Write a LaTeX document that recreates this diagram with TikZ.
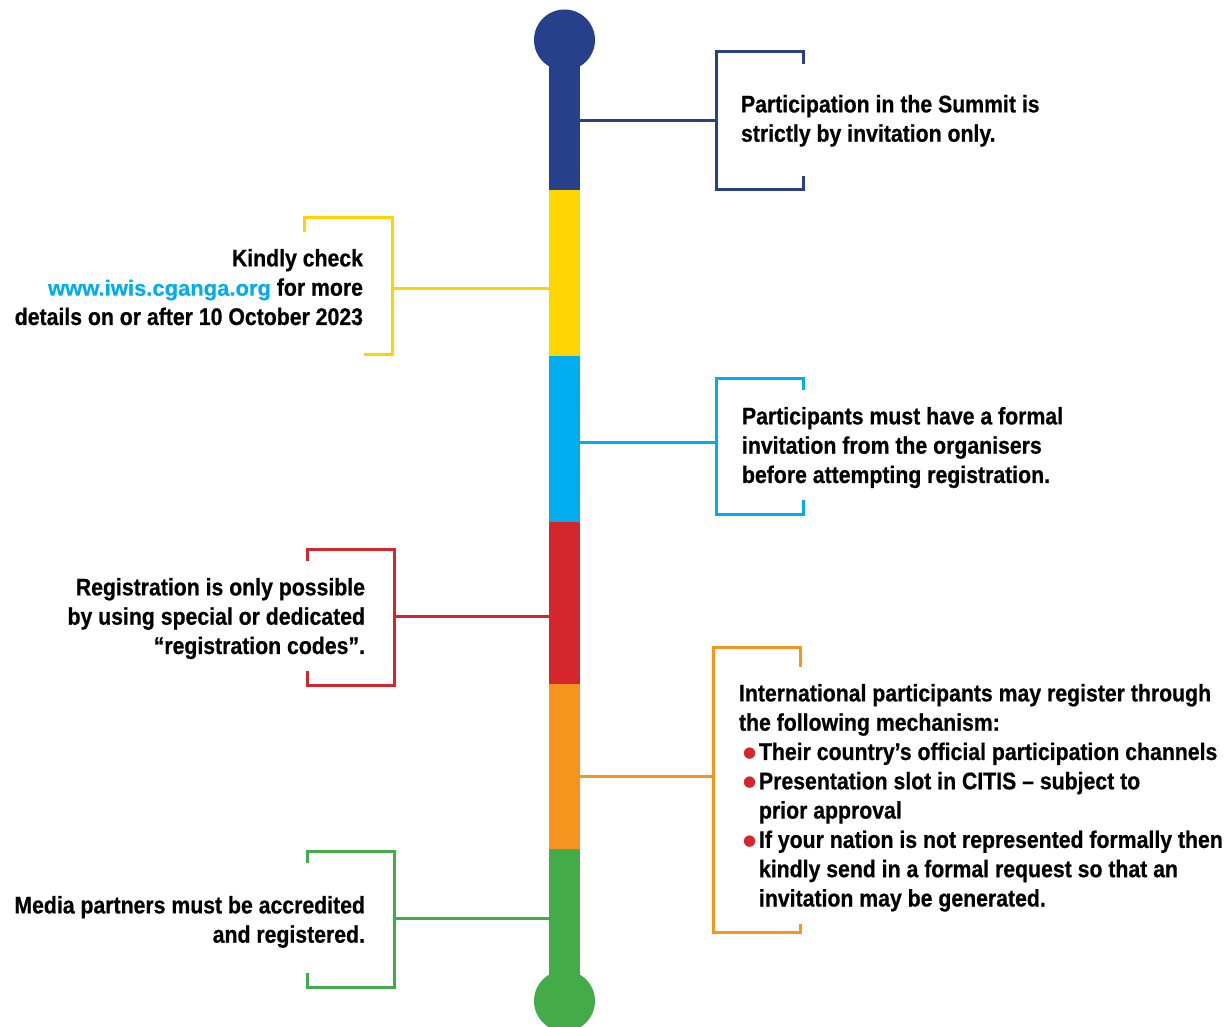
\documentclass[tikz,border=0pt]{standalone}
\usepackage{fontspec}
\setmainfont{Liberation Sans}[FakeStretch=0.885, BoldFeatures={FakeBold=0.6}]
\newfontfamily\webfont{Liberation Sans}[BoldFeatures={FakeBold=0.4}]
\newfontfamily\symfont{DejaVu Sans}

\definecolor{tlBlue}{HTML}{27408B}
\definecolor{tlYellow}{HTML}{FFD500}
\definecolor{tlCyan}{HTML}{00AEEF}
\definecolor{tlRed}{HTML}{D6262D}
\definecolor{tlOrange}{HTML}{F7941E}
\definecolor{tlGreen}{HTML}{43AC48}

% red bullet with a hanging indent of 20pt
\newcommand\redbul{\makebox[20pt][l]{\hspace*{4pt}\raisebox{2.5pt}{\textcolor{tlRed}{\symfont\mdseries\fontsize{15}{15}\selectfont ●}}}}
\newcommand\hang{\hspace*{20pt}}

\begin{document}
\begin{tikzpicture}[x=1pt,y=-1pt,
  bracket/.style={line width=3pt, line cap=butt},
  link/.style={line width=3pt},
  note/.style={inner sep=0pt, outer sep=0pt, text=black,
    font=\fontsize{24}{29.3}\selectfont\bfseries},
  seg/.style={rectangle, draw=none, minimum width=31pt, inner sep=0pt, outer sep=0pt},
  endcap/.style={circle, draw=none, minimum size=61pt, inner sep=0pt, outer sep=0pt}]
\useasboundingbox (0,0) rectangle (1231,1027);

% --- the coloured bar with round end caps ---
\node[endcap, fill=tlBlue]  (capTop) at (564.5,40) {};
\node[endcap, fill=tlGreen] (capBot) at (564.5,1001) {};
\node[seg, fill=tlBlue,   minimum height=150pt] (sBlue)   at (564.5,115) {};
\node[seg, fill=tlYellow, minimum height=166pt] (sYellow) at (564.5,273) {};
\node[seg, fill=tlCyan,   minimum height=166pt] (sCyan)   at (564.5,439) {};
\node[seg, fill=tlRed,    minimum height=162pt] (sRed)    at (564.5,603) {};
\node[seg, fill=tlOrange, minimum height=165pt] (sOrange) at (564.5,766.5) {};
\node[seg, fill=tlGreen,  minimum height=152pt] (sGreen)  at (564.5,925) {};

% --- brackets ---
\draw[bracket, tlBlue]   (803,64) -- (803,52) -- (716,52) -- (716,190) -- (803,190) -- (803,176);
\draw[bracket, tlYellow] (304,232) -- (304,218) -- (392,218) -- (392,354) -- (364,354);
\draw[bracket, tlCyan]   (803,390) -- (803,378) -- (716,378) -- (716,514) -- (803,514) -- (803,500);
\draw[bracket, tlRed]    (307,561) -- (307,549) -- (394,549) -- (394,685) -- (307,685) -- (307,671);
\draw[bracket, tlOrange] (800,667) -- (800,647) -- (713,647) -- (713,932) -- (800,932) -- (800,924);
\draw[bracket, tlGreen]  (307,863) -- (307,851) -- (394,851) -- (394,987) -- (307,987) -- (307,973);

% --- connectors from the bar to the brackets ---
\coordinate (bBlue)   at (716,121);
\coordinate (bYellow) at (392,288);
\coordinate (bCyan)   at (716,442);
\coordinate (bRed)    at (394,616);
\coordinate (bOrange) at (713,776);
\coordinate (bGreen)  at (394,918);
\draw[link, tlBlue]   (sBlue.east |- bBlue) -- (bBlue);
\draw[link, tlYellow] (sYellow.west |- bYellow) -- (bYellow);
\draw[link, tlCyan]   (sCyan.east |- bCyan) -- (bCyan);
\draw[link, tlRed]    (sRed.west |- bRed) -- (bRed);
\draw[link, tlOrange] (sOrange.east |- bOrange) -- (bOrange);
\draw[link, tlGreen]  (sGreen.west |- bGreen) -- (bGreen);

% --- texts ---
\node[note, anchor=north west, align=left] (tBlue) at (741,95)
  {Participation in the Summit is\\strictly by invitation only.};
\node[note, anchor=north east, align=right] (tYellow) at (363,249)
  {Kindly check\\{\webfont\fontsize{22}{29.3}\selectfont\color{tlCyan}www.iwis.cganga.org} for more\\details on or after 10 October 2023};
\node[note, anchor=north west, align=left] (tCyan) at (742,407)
  {Participants must have a formal\\invitation from the organisers\\before attempting registration.};
\node[note, anchor=north east, align=right] (tRed) at (365,578)
  {Registration is only possible\\by using special or dedicated\\“registration codes”.};
\node[note, anchor=north west, align=left] (tOrange) at (739,684)
  {International participants may register through\\
   the following mechanism:\\
   \redbul Their country’s official participation channels\\
   \redbul Presentation slot in CITIS – subject to\\
   \hang prior approval\\
   \redbul If your nation is not represented formally then\\
   \hang kindly send in a formal request so that an\\
   \hang invitation may be generated.};
\node[note, anchor=north east, align=right] (tGreen) at (365,896)
  {Media partners must be accredited\\and registered.};
\end{tikzpicture}
\end{document}
